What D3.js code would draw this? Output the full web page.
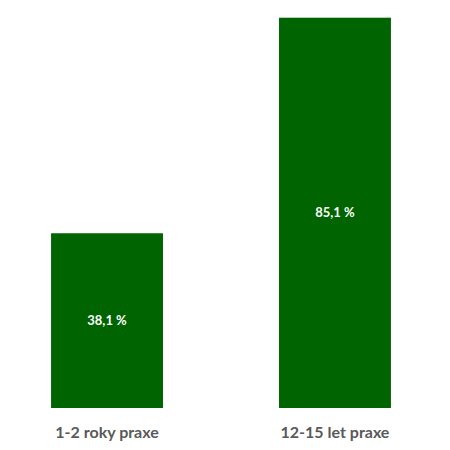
<!DOCTYPE html>
<html><head><meta charset="utf-8">
<script src="https://cdn.jsdelivr.net/npm/d3@7"></script>
<style>body{margin:0;background:#fff}</style>
</head><body>
<svg id="c" width="450" height="450"></svg>
<script>
const categories = ["1-2 roky praxe", "12-15 let praxe"];
const values = [38.1, 85.1];
const valueLabels = ["38,1 %", "85,1 %"];

const svg = d3.select("#c");
const x = d3.scaleBand().domain(categories).range([0, 442]).paddingInner(0.509).paddingOuter(0.224);
const y = d3.scaleLinear().domain([0, 85.1]).range([408, 17.7]);

svg.selectAll("rect.bar").data(values).enter().append("rect")
  .attr("x", (d,i) => x(categories[i]))
  .attr("y", d => y(d))
  .attr("width", x.bandwidth())
  .attr("height", d => y(0) - y(d))
  .attr("fill", "#006400");

svg.selectAll("text.val").data(values).enter().append("text")
  .attr("x", (d,i) => x(categories[i]) + x.bandwidth()/2)
  .attr("y", d => (y(d) + y(0))/2)
  .attr("dy", "0.35em")
  .attr("text-anchor", "middle")
  .attr("font-family", "Lato, 'Open Sans', sans-serif")
  .attr("font-weight", "bold")
  .attr("font-size", "13px")
  .attr("fill", "#fff")
  .text((d,i) => valueLabels[i]);

const axis = d3.axisBottom(x).tickSize(0).tickPadding(0);
const g = svg.append("g").attr("transform", "translate(0,408)").call(axis);
g.select(".domain").remove();
g.selectAll("text")
  .attr("y", 30)
  .attr("dy", 0)
  .attr("font-family", "Lato, 'Open Sans', sans-serif")
  .attr("font-weight", "bold")
  .attr("font-size", "16px")
  .attr("fill", "#595959");
</script>
</body></html>
